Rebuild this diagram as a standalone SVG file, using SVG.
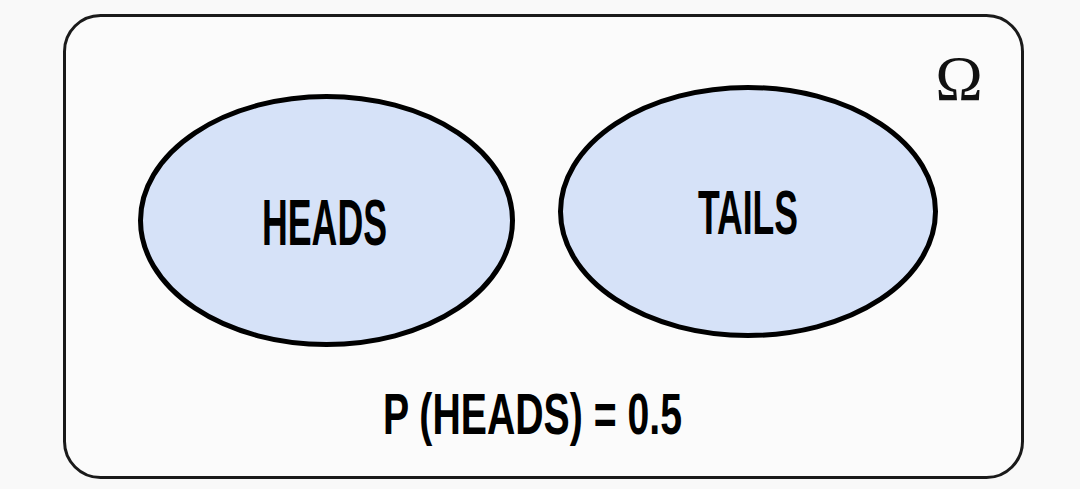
<svg xmlns="http://www.w3.org/2000/svg" width="1080" height="489" viewBox="0 0 1080 489">
<style>
.set{fill:#d6e2f8;stroke:#000;stroke-width:5}
.lbl{font-family:"Liberation Sans",Arial,sans-serif;font-weight:bold;fill:#000}
</style>
<rect x="0" y="0" width="1080" height="489" fill="#f9f9f9"/>
<g id="omega">
<rect x="64.5" y="15.5" width="958" height="462" rx="36" ry="36" fill="#fbfbfb" stroke="#1a1a1a" stroke-width="3"/>
<text x="959" y="100" font-family="Liberation Serif,'Times New Roman',serif" font-size="64" text-anchor="middle" fill="#111">Ω</text>
</g>
<g id="heads">
<ellipse class="set" cx="326.5" cy="220.5" rx="186" ry="124"/>
<text class="lbl" x="262" y="245" font-size="64" textLength="125" lengthAdjust="spacingAndGlyphs">HEADS</text>
</g>
<g id="tails">
<ellipse class="set" cx="748" cy="211.5" rx="187.5" ry="124"/>
<text class="lbl" x="698" y="234" font-size="63" textLength="100" lengthAdjust="spacingAndGlyphs">TAILS</text>
</g>
<g id="prob">
<text class="lbl" x="383" y="434" font-size="58" textLength="299" lengthAdjust="spacingAndGlyphs">P (HEADS) = 0.5</text>
</g>
<g id="connectors"/>
</svg>
